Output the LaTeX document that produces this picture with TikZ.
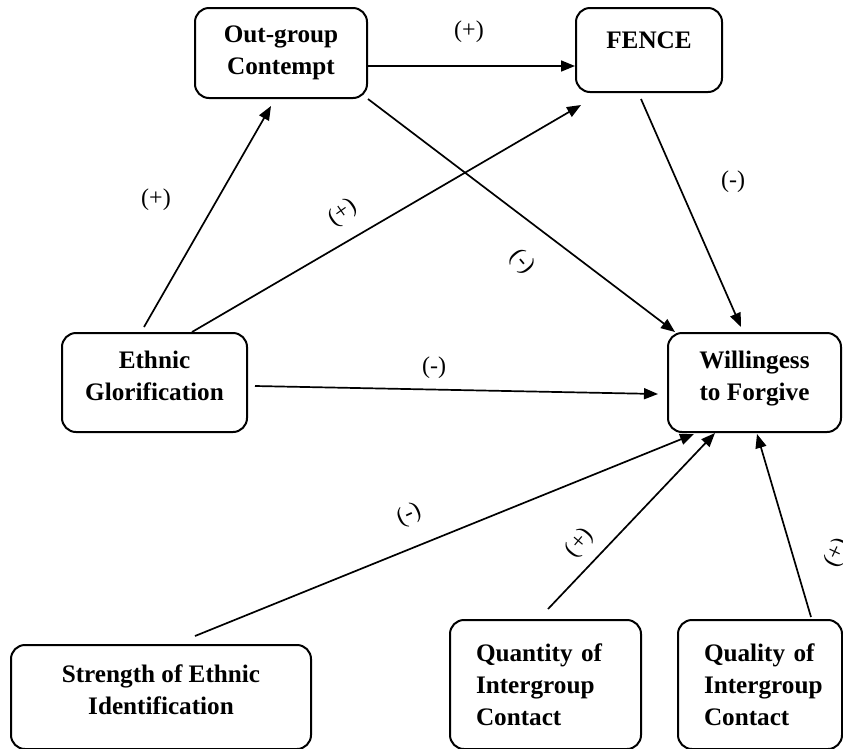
\documentclass[tikz,border=0pt]{standalone}
\usepackage{fontspec}
\setmainfont{Liberation Serif}
\usetikzlibrary{arrows.meta}
\begin{document}
\begin{tikzpicture}[x=1pt,y=-1pt,
  box/.style={draw,line width=2pt,rounded corners=14pt,inner sep=0pt,
    font=\fontsize{25.2}{32}\selectfont\bfseries,align=center},
  lbox/.style={box,align=left,inner xsep=26pt},
  arr/.style={line width=1.7pt,-{Triangle[length=14pt,width=11pt]}},
  lbl/.style={font=\fontsize{24}{26}\selectfont,inner sep=0pt}]
\clip (0,0) rectangle (843,748);
\useasboundingbox (0,0) rectangle (843,748);
% boxes
\node[box,minimum width=172pt,minimum height=90pt] (ogc) at (281,53) {Out-group\\Contempt};
\node[box,minimum width=146pt,minimum height=84pt,text height=18pt,text depth=21pt] (fence) at (649,50) {FENCE};
\node[box,minimum width=185pt,minimum height=99pt,text depth=13pt] (eg) at (154.5,382.5) {Ethnic\\Glorification};
\node[box,minimum width=173pt,minimum height=99pt,text depth=13pt] (wtf) at (754.5,382.5) {Willingess\\to Forgive};
\node[box,minimum width=300pt,minimum height=104pt,text depth=15.6pt] (sei) at (161,697) {Strength of Ethnic\\Identification};
\node[lbox,text width=139pt,minimum height=129pt] (qty) at (545.5,684.5) {Quantity of\\Intergroup\\Contact};
\node[lbox,text width=112pt,minimum height=129pt] (qly) at (760,684.5) {Quality of\\Intergroup\\Contact};
% connectors
\draw[arr] ([xshift=-10.5pt,yshift=5pt]eg.north) -- ([xshift=-10pt,yshift=-7pt]ogc.south);
\draw[arr] ([xshift=37.5pt]eg.north) -- ([xshift=6pt,yshift=-12pt]fence.south west);
\draw[arr] (ogc.south east) -- ([xshift=8pt]wtf.north west);
\draw[arr] ([yshift=-13pt]ogc.east) -- ([yshift=-16pt]fence.west);
\draw[arr] ([xshift=-8pt,yshift=-6pt]fence.south) -- ([xshift=-13.5pt,yshift=5pt]wtf.north);
\draw[arr] ([xshift=7pt,yshift=-3.5pt]eg.east) -- ([xshift=-9pt,yshift=-11.5pt]wtf.west);
\draw[arr] ([xshift=34pt,yshift=8pt]sei.north) -- ([xshift=-60.5pt,yshift=-1pt]wtf.south);
\draw[arr] ([xshift=2.5pt,yshift=10pt]qty.north) -- ([xshift=-39.5pt]wtf.south);
\draw[arr] ([xshift=51pt,yshift=2pt]qly.north) -- ([xshift=2.5pt,yshift=-1pt]wtf.south);
% labels
\node[lbl] (l1) at (156,200) {(+)};
\node[lbl] (l4) at (469,32) {(+)};
\node[lbl,rotate=35] (l2) at (343,213) {(+)};
\node[lbl,rotate=-50] (l3) at (522,262) {(-)};
\node[lbl] (l5) at (733,182) {(-)};
\node[lbl] (l6) at (434,368) {(-)};
\node[lbl,rotate=25] (l7) at (409,515) {(-)};
\node[lbl,rotate=50] (l8) at (580,543) {(+)};
\node[lbl,rotate=65] (l9) at (837,553) {(+)};
\end{tikzpicture}
\end{document}
